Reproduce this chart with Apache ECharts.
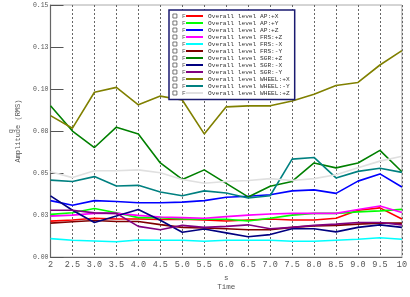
<!DOCTYPE html>
<html>
<head>
<meta charset="utf-8">
<script src="https://cdn.jsdelivr.net/npm/echarts@6/dist/echarts.min.js"></script>
<style>
html,body{margin:0;padding:0;background:#fff;}
#c{width:410px;height:297px;}
</style>
</head>
<body>
<div id="c"></div>
<script>
const times = [2,2.5,3,3.5,4,4.5,5,5.5,6,6.5,7,7.5,8,8.5,9,9.5,10];
const xTickLabels = ['2','2.5','3.0','3.5','4.0','4.5','5.0','5.5','6.0','6.5','7.0','7.5','8.0','8.5','9.0','9.5','10'];
const yTickLabels = ['0.00','0.03','0.05','0.08','0.10','0.13','0.15'];

const seriesNames = [
  'Overall level AP:+X','Overall level AP:+Y','Overall level AP:+Z',
  'Overall level FRS:+Z','Overall level FRS:-X','Overall level FRS:-Y',
  'Overall level SGR:+Z','Overall level SGR:-X','Overall level SGR:-Y',
  'Overall level WHEEL:+X','Overall level WHEEL:-Y','Overall level WHEEL:+Z'
];
const seriesColors = ['#ff0000','#00ff00','#0000ff','#ff00ff','#00ffff','#800000','#008000','#000080','#800080','#808000','#008080','#e0e0e0'];

const apX = [0.0214,0.0221,0.0231,0.0227,0.0227,0.0224,0.0225,0.0221,0.0215,0.0221,0.0227,0.0221,0.0221,0.0231,0.0279,0.0293,0.0227];
const apY = [0.0254,0.0264,0.0289,0.0264,0.0235,0.0235,0.0227,0.0225,0.0225,0.0215,0.0231,0.0250,0.0260,0.0260,0.0269,0.0275,0.0284];
const apZ = [0.0336,0.0308,0.0336,0.0331,0.0323,0.0323,0.0327,0.0336,0.0356,0.0362,0.0371,0.0394,0.0400,0.0379,0.0452,0.0495,0.0417];
const frsZ = [0.0244,0.0250,0.0260,0.0260,0.0248,0.0239,0.0235,0.0231,0.0241,0.0250,0.0256,0.0260,0.0260,0.0260,0.0283,0.0304,0.0265];
const frsXn = [0.0110,0.0100,0.0096,0.0091,0.0102,0.0100,0.0100,0.0094,0.0100,0.0100,0.0100,0.0094,0.0094,0.0100,0.0106,0.0115,0.0106];
const frsYn = [0.0202,0.0210,0.0218,0.0212,0.0212,0.0193,0.0177,0.0173,0.0169,0.0163,0.0163,0.0177,0.0186,0.0189,0.0196,0.0202,0.0202];
const sgrZ = [0.0900,0.0750,0.0652,0.0773,0.0733,0.0560,0.0462,0.0519,0.0439,0.0358,0.0421,0.0450,0.0560,0.0531,0.0560,0.0635,0.0508];
const sgrXn = [0.0364,0.0279,0.0206,0.0244,0.0283,0.0219,0.0148,0.0167,0.0144,0.0121,0.0134,0.0169,0.0169,0.0150,0.0177,0.0192,0.0177];
const sgrYn = [0.0279,0.0279,0.0263,0.0260,0.0183,0.0163,0.0189,0.0177,0.0183,0.0192,0.0169,0.0177,0.0189,0.0196,0.0206,0.0206,0.0192];
const wheelX = [0.0842,0.0767,0.0981,0.1010,0.0906,0.0958,0.0935,0.0733,0.0894,0.0900,0.0900,0.0929,0.0969,0.1021,0.1039,0.1143,0.1229];
const wheelYn = [0.0458,0.0450,0.0479,0.0423,0.0427,0.0387,0.0365,0.0394,0.0381,0.0352,0.0365,0.0583,0.0593,0.0471,0.0510,0.0529,0.0504];
const wheelZ = [0.0508,0.0473,0.0514,0.0514,0.0519,0.0502,0.0462,0.0439,0.0450,0.0456,0.0467,0.0456,0.0467,0.0490,0.0531,0.0571,0.0600];

const allValues = [apX,apY,apZ,frsZ,frsXn,frsYn,sgrZ,sgrXn,sgrYn,wheelX,wheelYn,wheelZ];

const FONT = '"Liberation Mono", "DejaVu Sans Mono", monospace';

const series = seriesNames.map((name,i)=>({
  name: name,
  type: 'line',
  data: times.map((t,j)=>[t, allValues[i][j]]),
  symbol: 'none',
  color: seriesColors[i],
  lineStyle: {width: 1.6, color: seriesColors[i]},
  z: 2,
  animation: false
}));

const chart = echarts.init(document.getElementById('c'), null, {renderer:'canvas'});
chart.setOption({
  backgroundColor: '#fff',
  animation: false,
  grid: {left: 35, right: 2, top: 5, bottom: 32, show: true, borderColor: '#aaa', borderWidth: 1, backgroundColor: 'transparent'},
  xAxis: {
    type: 'value', min: 2, max: 10, interval: 0.5,
    name: 's\nTime', nameLocation: 'middle', nameGap: 13,
    nameTextStyle: {fontFamily: FONT, fontSize: 7.5, color: '#555', lineHeight: 9},
    axisLine: {show: true, lineStyle: {color: '#666', width: 1.2}},
    axisTick: {show: false},
    axisLabel: {
      fontFamily: FONT, fontSize: 8.5, color: '#555', margin: 3,
      formatter: v => { const k = Math.round((v-2)/0.5); return xTickLabels[k] !== undefined ? xTickLabels[k] : ''; }
    },
    splitLine: {show: true, lineStyle: {color: '#666', type: [2,2], width: 1}}
  },
  yAxis: {
    type: 'value', min: 0, max: 0.15, interval: 0.025,
    name: 'g\nAmplitude (RMS)', nameLocation: 'middle', nameRotate: 90, nameGap: 16,
    nameTextStyle: {fontFamily: FONT, fontSize: 7, color: '#555', lineHeight: 7, align: 'center'},
    axisLine: {show: true, lineStyle: {color: '#666', width: 1.2}},
    axisTick: {show: true, inside: true, length: 13, lineStyle: {color: '#555', width: 1}},
    axisLabel: {
      fontFamily: FONT, fontSize: 6.5, color: '#555', margin: 2,
      formatter: v => { const k = Math.round(v/0.025); return yTickLabels[k] !== undefined ? yTickLabels[k] : ''; }
    },
    splitLine: {show: false}
  },
  legend: [
    {
      data: seriesNames,
      orient: 'vertical',
      left: 169, top: 10,
      padding: [2.5, 5, 3, 17],
      itemGap: 0,
      itemWidth: 17, itemHeight: 2,
      icon: 'rect',
      backgroundColor: '#fff',
      borderColor: '#1a1a70', borderWidth: 1.5,
      textStyle: {fontFamily: FONT, fontSize: 6.2, color: '#333', lineHeight: 7},
      selectedMode: false,
      z: 5
    },
    {
      data: seriesNames,
      orient: 'vertical',
      left: 172.5, top: 12.5,
      padding: 0,
      itemGap: 0,
      itemWidth: 4, itemHeight: 4,
      icon: 'rect',
      itemStyle: {color: '#fff', borderColor: '#555', borderWidth: 0.8},
      formatter: () => 'F',
      textStyle: {fontFamily: FONT, fontSize: 6.2, color: '#555', lineHeight: 7},
      selectedMode: false,
      z: 6
    }
  ],
  series: series
});
</script>
</body>
</html>
